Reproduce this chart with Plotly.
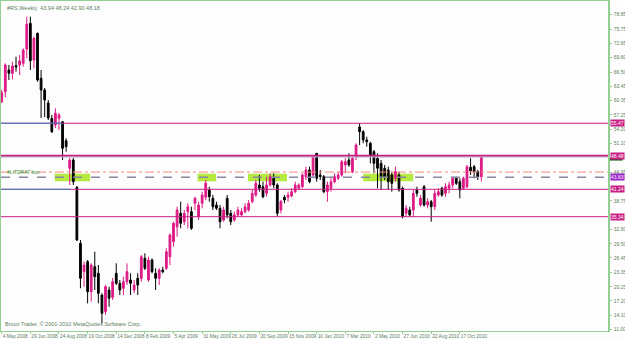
import pandas as pd
import plotly.graph_objects as go

# ---------------- data (weekly bars, from 4 May 2008) ----------------
opens = [60.11, 62.26, 66.94, 66.23, 67.87, 68.02, 68.38, 71.46, 77.00, 69.09,
         74.84, 65.15, 62.63, 59.83, 56.53, 55.09, 56.53, 55.80, 51.71, 45.77,
         47.55, 41.67, 29.61, 23.49, 25.65, 19.19, 24.57, 23.15, 18.47, 14.88,
         19.55, 17.98, 23.15, 20.99, 19.92, 21.34, 21.70, 19.55, 22.07, 22.07,
         26.38, 21.70, 26.01, 23.15, 22.07, 23.86, 24.23, 26.72, 29.95, 33.18,
         36.07, 34.26, 36.42, 36.42, 38.23, 35.34, 38.23, 39.52, 41.09, 39.30,
         37.86, 37.15, 34.63, 39.30, 36.07, 34.63, 35.71, 35.71, 36.42, 36.78,
         38.57, 40.00, 42.17, 41.80, 40.38, 42.17, 43.61, 42.17, 36.80, 39.52,
         39.52, 39.80, 40.73, 41.46, 41.80, 43.96, 45.40, 44.32, 48.99, 44.32,
         43.96, 40.73, 41.46, 42.88, 43.61, 44.32, 46.48, 47.55, 45.03, 48.26,
         54.66, 53.65, 51.86, 51.15, 49.34, 47.92, 46.84, 45.77, 45.40, 44.32,
         43.61, 44.32, 41.46, 36.07, 36.78, 36.78, 41.09, 37.86, 41.80, 37.86,
         38.57, 37.49, 40.00, 41.46, 40.38, 41.46, 42.17, 43.61, 42.88, 41.46,
         41.80, 45.98, 46.11, 45.03, 43.94]
highs = [62.63, 68.38, 68.02, 68.73, 69.80, 70.17, 71.61, 78.42, 78.42, 74.11,
         75.00, 66.94, 63.06, 60.48, 57.25, 58.69, 57.68, 55.95, 52.23, 47.98,
         47.98, 41.95, 30.32, 25.65, 26.01, 25.30, 27.80, 24.93, 18.84, 20.63,
         20.26, 22.13, 25.30, 21.70, 22.42, 25.30, 23.15, 21.70, 23.15, 27.09,
         27.46, 26.72, 26.38, 24.23, 24.23, 24.57, 28.53, 31.76, 34.26, 37.49,
         38.57, 36.78, 38.23, 37.49, 39.65, 38.57, 40.73, 43.24, 41.80, 40.00,
         38.57, 37.86, 37.49, 40.00, 36.78, 36.42, 37.49, 37.15, 38.23, 38.94,
         41.09, 43.24, 44.32, 42.88, 43.96, 44.69, 44.69, 42.53, 38.94, 40.00,
         40.73, 41.46, 42.88, 42.53, 44.69, 46.11, 46.11, 48.63, 48.99, 45.40,
         44.32, 42.88, 43.96, 44.69, 45.04, 47.55, 47.92, 49.00, 48.26, 51.15,
         55.46, 53.99, 52.57, 51.49, 49.71, 48.99, 47.55, 46.48, 46.11, 45.03,
         46.11, 45.03, 41.80, 37.86, 37.49, 41.09, 41.80, 40.00, 42.17, 39.30,
         38.94, 41.09, 41.46, 41.80, 42.53, 42.88, 43.96, 43.96, 43.61, 43.96,
         46.48, 47.92, 46.48, 45.40, 48.24]
lows = [59.83, 61.06, 64.78, 64.93, 66.57, 65.86, 67.65, 69.46, 66.94, 67.30,
        64.42, 56.60, 56.80, 56.17, 53.37, 54.45, 54.02, 47.55, 49.34, 42.17,
        42.17, 30.10, 19.92, 20.26, 16.68, 17.03, 19.55, 16.68, 12.38, 14.17,
        15.95, 17.40, 20.63, 18.47, 18.47, 20.63, 18.47, 18.84, 18.47, 21.34,
        23.86, 21.34, 23.15, 19.55, 20.63, 23.15, 23.86, 24.93, 28.88, 31.03,
        32.84, 33.55, 32.84, 32.48, 36.78, 34.63, 37.15, 38.94, 38.57, 36.78,
        36.78, 32.84, 34.26, 34.99, 33.55, 34.26, 35.34, 35.34, 36.07, 36.42,
        38.23, 39.65, 40.73, 39.30, 39.65, 41.80, 41.46, 35.34, 36.07, 38.23,
        38.57, 39.52, 40.38, 41.09, 41.46, 43.24, 42.53, 43.96, 42.88, 43.24,
        40.38, 38.57, 40.73, 42.53, 43.24, 43.96, 44.69, 46.11, 44.69, 47.55,
        50.78, 51.15, 50.42, 46.84, 44.69, 41.46, 41.09, 43.24, 41.09, 40.73,
        42.88, 40.73, 34.99, 35.34, 35.34, 35.34, 39.65, 37.49, 37.49, 37.15,
        34.26, 36.78, 39.65, 39.65, 39.65, 40.38, 41.46, 42.17, 39.30, 41.09,
        41.46, 44.32, 43.61, 43.24, 42.90]
closes = [62.05, 68.02, 66.23, 67.80, 67.59, 68.88, 71.25, 76.78, 68.94, 73.77,
          64.78, 62.63, 60.48, 56.60, 53.65, 57.61, 57.25, 50.07, 50.42, 47.55,
          42.88, 30.32, 22.07, 24.93, 19.19, 24.93, 22.42, 18.84, 14.53, 20.26,
          17.76, 21.34, 20.99, 19.55, 21.34, 23.49, 20.99, 20.63, 20.63, 26.72,
          24.23, 26.01, 23.49, 22.07, 23.86, 23.49, 27.80, 31.40, 33.92, 36.78,
          33.92, 36.07, 37.49, 32.84, 39.30, 37.86, 40.00, 42.53, 39.65, 37.49,
          37.15, 34.26, 36.78, 35.71, 34.26, 35.71, 36.78, 36.42, 37.49, 38.23,
          40.38, 42.53, 41.46, 39.65, 42.17, 43.96, 42.17, 36.07, 38.60, 38.94,
          40.00, 40.73, 42.17, 42.17, 44.32, 45.40, 42.88, 48.26, 43.61, 43.96,
          40.73, 42.17, 42.88, 43.96, 44.32, 47.19, 47.19, 46.48, 47.92, 50.78,
          53.65, 51.86, 51.49, 48.63, 46.84, 45.77, 43.96, 43.96, 42.88, 42.53,
          45.03, 41.09, 35.34, 37.15, 35.71, 40.38, 40.38, 39.30, 37.86, 38.57,
          37.49, 40.38, 40.73, 40.00, 41.80, 42.17, 43.61, 42.53, 41.09, 43.61,
          46.11, 45.25, 45.03, 43.96, 48.18]

x_tick_dates = ["2008-05-04", "2008-06-29", "2008-08-24", "2008-10-19", "2008-12-14",
                "2009-02-08", "2009-04-05", "2009-05-31", "2009-07-26", "2009-09-20",
                "2009-11-15", "2010-01-10", "2010-03-07", "2010-05-02", "2010-06-27",
                "2010-08-22", "2010-10-17"]
x_tick_text = ["4 May 2008", "29 Jun 2008", "24 Aug 2008", "19 Oct 2008", "14 Dec 2008",
               "8 Feb 2009", "5 Apr 2009", "31 May 2009", "26 Jul 2009", "20 Sep 2009",
               "15 Nov 2009", "10 Jan 2010", "7 Mar 2010", "2 May 2010", "27 Jun 2010",
               "22 Aug 2010", "17 Oct 2010"]

y_tick_vals = [11.00, 14.10, 17.20, 20.25, 23.35, 26.45, 29.50, 32.60, 38.75,
               44.95, 51.10, 54.20, 57.25, 60.35, 63.45, 66.50, 69.60,
               72.65, 75.75, 78.85]
y_tick_text = ["11.00", "14.10", "17.20", "20.25", "23.35", "26.45", "29.50", "32.60",
               "38.75", "44.95", "51.10", "54.20", "57.25", "60.35", "63.45", "66.50",
               "69.60", "72.65", "75.75", "78.85"]

level_values = [55.47, 48.48, 41.24, 35.34]        # magenta horizontal levels
level_labels = ["55.47", "48.48", "41.24", "35.34"]
bid_value = 48.18
pivot_value, pivot_label = 43.83, "43.83"
dashdot_value = 44.95
zone_low, zone_high = 42.95, 44.60
zone_weeks = [(14.8, 24.7), (54.7, 59.9), (68.8, 79.7), (101.0, 115.0)]
title_text = "#RS,Weekly  43.94 48.24 42.90 48.18"
copyright_text = "Broco Trader, © 2001-2010 MetaQuotes Software Corp."

# ---------------- figure ----------------
start = pd.Timestamp("2008-05-04")
dates = pd.date_range(start, periods=len(opens), freq="7D")
wk = pd.Timedelta(days=7)

def wdate(w):
    return start + wk * w

BULL = "#dd1a86"
BEAR = "#000000"
LEVEL = "#c81e83"
GRID_GREEN = "#93cf93"
TXT = "#5f7f5f"
FONT = "Liberation Sans"

fig = go.Figure()
fig.add_trace(go.Candlestick(
    x=dates, open=opens, high=highs, low=lows, close=closes,
    increasing=dict(line=dict(color=BULL, width=1), fillcolor=BULL),
    decreasing=dict(line=dict(color=BEAR, width=1), fillcolor=BEAR),
    whiskerwidth=0, showlegend=False, hoverinfo="skip",
))

shapes = []
for a, b in zone_weeks:
    shapes.append(dict(type="rect", xref="x", yref="y", x0=wdate(a), x1=wdate(b),
                       y0=zone_low, y1=zone_high, fillcolor="#a8e61e", opacity=0.85,
                       line=dict(width=0), layer="below"))
for v in level_values:
    shapes.append(dict(type="line", xref="paper", yref="y", x0=0, x1=1, y0=v, y1=v,
                       line=dict(color=LEVEL, width=2 if v == 48.48 else 1), layer="above"))
shapes.append(dict(type="line", xref="paper", yref="y", x0=0, x1=1, y0=bid_value, y1=bid_value,
                   line=dict(color="#b8b8c0", width=1)))
shapes.append(dict(type="line", xref="paper", yref="y", x0=0, x1=1, y0=dashdot_value, y1=dashdot_value,
                   line=dict(color="#f58a7a", width=1, dash="dashdot")))
shapes.append(dict(type="line", xref="paper", yref="y", x0=0, x1=1, y0=pivot_value, y1=pivot_value,
                   line=dict(color="#8888a0", width=1.5, dash="dash")))
shapes.append(dict(type="line", xref="x", yref="y", x0=wdate(-1), x1=wdate(17.0),
                   y0=level_values[0], y1=level_values[0], line=dict(color="#3d7fc0", width=1)))
shapes.append(dict(type="line", xref="x", yref="y", x0=wdate(-1), x1=wdate(19.2),
                   y0=level_values[2], y1=level_values[2], line=dict(color="#3d7fc0", width=1)))
# current-price (bid) label strip peeking under the 48.48 label
shapes.append(dict(type="rect", xref="paper", yref="y", x0=1.003, x1=1.024,
                   y0=bid_value - 0.75, y1=bid_value - 0.2, fillcolor="#1f5f1f",
                   line=dict(width=0)))

ann = []
for v, t in zip(level_values, level_labels):
    ann.append(dict(xref="paper", yref="y", x=1.0, y=v, xanchor="left", yanchor="middle",
                    text=t, showarrow=False, bgcolor=LEVEL,
                    font=dict(color="white", size=5, family=FONT),
                    borderpad=0, xshift=2))
ann.append(dict(xref="paper", yref="y", x=1.0, y=pivot_value, xanchor="left", yanchor="middle",
                text=pivot_label, showarrow=False, bgcolor="#9a22c8",
                font=dict(color="white", size=5, family=FONT), borderpad=0, xshift=2))
ann.append(dict(xref="paper", yref="paper", x=0.006, y=0.995, xanchor="left", yanchor="top",
                text=title_text, showarrow=False, font=dict(color=TXT, size=5.5, family=FONT)))
ann.append(dict(xref="paper", yref="paper", x=0.004, y=0.006, xanchor="left", yanchor="bottom",
                text=copyright_text, showarrow=False, font=dict(color=TXT, size=5.5, family=FONT)))
ann.append(dict(xref="paper", yref="y", x=0.006, y=pivot_value, xanchor="left", yanchor="bottom",
                text="#LITDRAT box", showarrow=False, font=dict(color="#3a9a3a", size=5, family=FONT)))

fig.update_layout(
    width=625, height=339,
    margin=dict(l=1, r=17, t=1, b=8),
    paper_bgcolor="#fcfdfc", plot_bgcolor="#fcfdfc",
    shapes=shapes, annotations=ann,
    font=dict(family=FONT, size=5, color=TXT),
    xaxis=dict(
        type="date", rangeslider=dict(visible=False),
        range=[wdate(-0.2), wdate(169.4)],
        tickvals=pd.to_datetime(x_tick_dates), ticktext=x_tick_text, tickangle=0,
        ticks="outside", ticklen=2, tickcolor=GRID_GREEN,
        ticklabelposition="outside right", ticklabelstandoff=0,
        showgrid=False, zeroline=False, automargin=False,
        showline=True, linecolor=GRID_GREEN, linewidth=1, mirror=True,
        tickfont=dict(size=4.8, color=TXT, family=FONT),
    ),
    yaxis=dict(
        side="right", range=[10.72, 81.80],
        tickvals=y_tick_vals, ticktext=y_tick_text,
        ticks="outside", ticklen=2, tickcolor=GRID_GREEN, automargin=False,
        ticklabelstandoff=1,
        showgrid=False, zeroline=False,
        showline=True, linecolor=GRID_GREEN, linewidth=1.5, mirror=True,
        tickfont=dict(size=5, color=TXT, family=FONT),
    ),
)

fig.write_html("out.html")
